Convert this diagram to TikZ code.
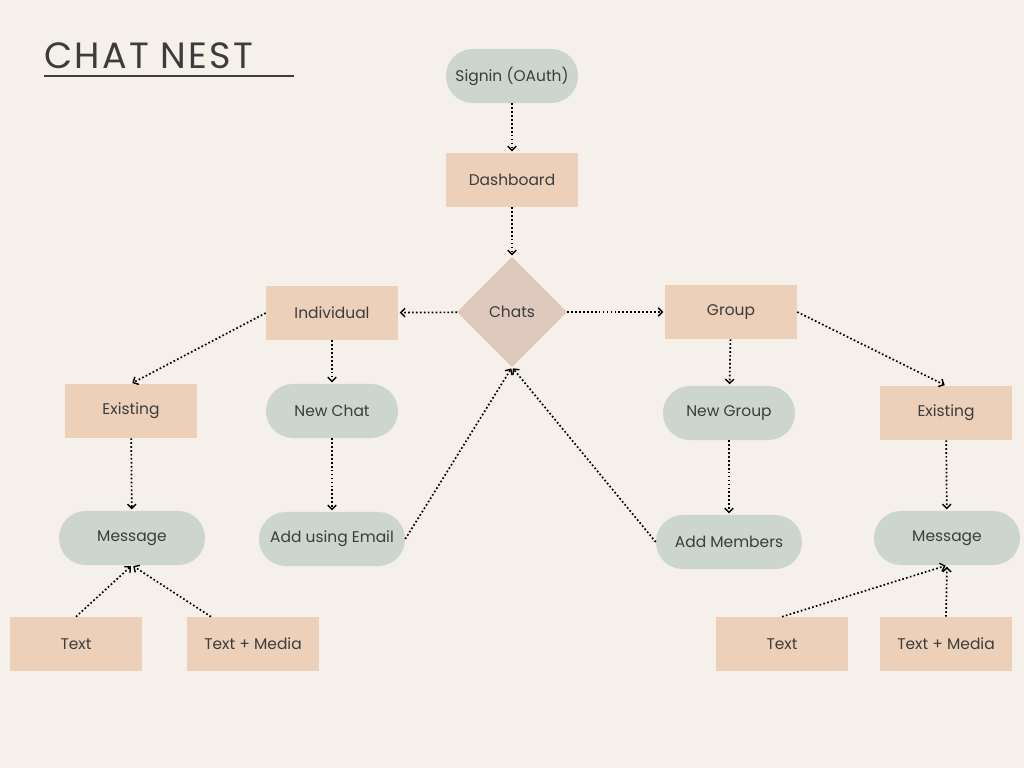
\documentclass[tikz,border=0pt]{standalone}
\usepackage{fontspec}
\setmainfont{Poppins}
\usetikzlibrary{arrows.meta,shapes.geometric}
\definecolor{bgcol}{HTML}{F5F0EA}
\definecolor{peach}{HTML}{EDD0B9}
\definecolor{sage}{HTML}{CDD6CE}
\definecolor{rose}{HTML}{DFC9BF}
\definecolor{ink}{HTML}{3C3C3C}
\tikzset{
  box/.style={fill=peach, minimum width=3.3cm, minimum height=1.35cm, inner sep=0pt, text=ink, font=\fontsize{11}{13}\selectfont},
  pill/.style={fill=sage, rounded corners=0.67cm, minimum width=3.3cm, minimum height=1.35cm, inner sep=0pt, text=ink, font=\fontsize{11}{13}\selectfont},
  widepill/.style={pill, minimum width=3.65cm},
  choice/.style={diamond, fill=rose, minimum width=2.75cm, minimum height=2.75cm, inner sep=0pt, text=ink, font=\fontsize{11}{13}\selectfont},
  flow/.style={line width=1.2pt, dash pattern=on 1.2pt off 1.6pt, -{Straight Barb[length=3pt,width=6pt,line width=1pt]}, shorten >=1pt}
}
\begin{document}
\begin{tikzpicture}[x=0.025cm,y=-0.025cm]
  \useasboundingbox[fill=bgcol] (0,0) rectangle (1024,768);
  % Title
  \node[anchor=base west, inner sep=0pt, text=ink, font=\fontsize{26}{28}\selectfont\addfontfeature{LetterSpace=6}] (title) at (44,69) {CHAT NEST};
  \coordinate (lineL) at (44,76);
  \coordinate (lineR) at (294,76);
  \draw[ink, line width=1pt] (lineL) -- (lineR);
  % Main column
  \node[pill] (signin) at (512,76) {Signin (OAuth)};
  \node[box] (dash) at (512,180) {Dashboard};
  \node[choice] (chats) at (512,312) {Chats};
  % Individual side
  \node[box] (indiv) at (332,313) {Individual};
  \node[box] (existL) at (131,411) {Existing};
  \node[pill] (newchat) at (332,411) {New Chat};
  \node[widepill] (msgL) at (132,538) {Message};
  \node[widepill] (email) at (332,539) {Add using Email};
  \node[box] (textL) at (76,644) {Text};
  \node[box] (mediaL) at (253,644) {Text + Media};
  % Group side
  \node[box] (group) at (731,312) {Group};
  \node[pill] (newgroup) at (729,413) {New Group};
  \node[box] (existR) at (946,413) {Existing};
  \node[widepill] (members) at (729,542) {Add Members};
  \node[widepill] (msgR) at (947,538) {Message};
  \node[box] (textR) at (782,644) {Text};
  \node[box] (mediaR) at (946,644) {Text + Media};
  % Connectors
  \draw[flow] (signin) -- (dash);
  \draw[flow] (dash) -- (chats);
  \draw[flow] (chats) -- (indiv);
  \draw[flow] (chats) -- (group);
  \draw[flow] (indiv.west) -- (existL.north);
  \draw[flow] (indiv) -- (newchat);
  \draw[flow] (newchat) -- (email);
  \draw[flow] (existL) -- (msgL);
  \draw[flow] (email.east) -- (chats.south);
  \draw[flow] (members.west) -- (chats.south);
  \draw[flow] (group) -- (newgroup);
  \draw[flow] (group.east) -- (existR.north);
  \draw[flow] (newgroup) -- (members);
  \draw[flow] (existR) -- (msgR);
  \draw[flow] (textL.north) -- (msgL.south);
  \draw[flow] ([xshift=-1.05cm]mediaL.north) -- (msgL.south);
  \draw[flow] (textR.north) -- (msgR.south);
  \draw[flow] (mediaR.north) -- (msgR.south);
\end{tikzpicture}
\end{document}
